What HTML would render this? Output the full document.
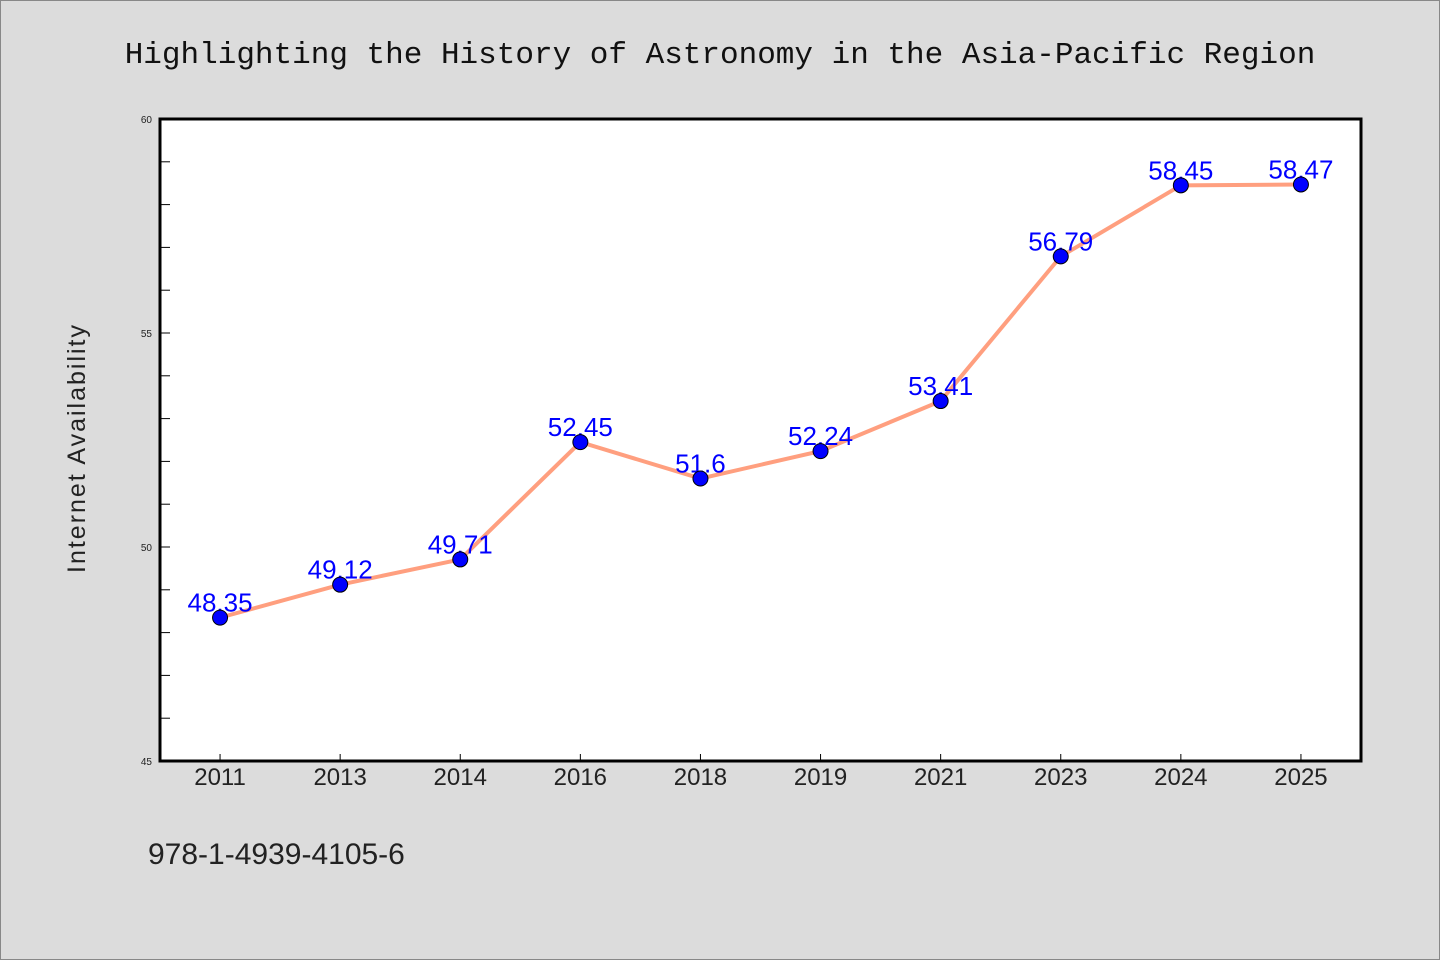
<!DOCTYPE html>
<html><head><meta charset="utf-8"><style>
html,body{margin:0;padding:0;background:#dcdcdc;}
svg{display:block;font-family:"Liberation Sans","WenQuanYi Zen Hei",sans-serif;}
</style></head><body>
<svg id="chart" width="1440" height="960">
<rect x="0.5" y="0.5" width="1439" height="959" fill="#dcdcdc" stroke="#888"/>
<text x="720" y="63" text-anchor="middle" font-family="Liberation Mono, monospace" font-size="31" fill="#111">Highlighting the History of Astronomy in the Asia-Pacific Region</text>
<rect x="160" y="119" width="1201" height="642" fill="#fff" stroke="#000" stroke-width="3"/>
<g id="yticks"></g><g id="xticks"></g><g id="series"></g>
<text transform="translate(85,448) rotate(-90)" text-anchor="middle" font-size="25" fill="#222" letter-spacing="2">Internet Availability</text>
<text x="148" y="864" font-size="30" fill="#222">978-1-4939-4105-6</text>
</svg>
<script>
const categories=["2011","2013","2014","2016","2018","2019","2021","2023","2024","2025"];
const values=[48.35,49.12,49.71,52.45,51.6,52.24,53.41,56.79,58.45,58.47];
const labels=["48.35","49.12","49.71","52.45","51.6","52.24","53.41","56.79","58.45","58.47"];
const yTickLabels=[45,50,55,60];
const yMin=45,yMax=60;
const NS="http://www.w3.org/2000/svg";
const x0=160,x1=1361,yTop=119,yBot=761;
function xs(i){return x0+(x1-x0)/categories.length*(i+0.5);}
function ys(v){return yBot-(v-yMin)/(yMax-yMin)*(yBot-yTop);}
function mk(t,a,p){const e=document.createElementNS(NS,t);for(const k in a)e.setAttribute(k,a[k]);p.appendChild(e);return e;}
const yt=document.getElementById('yticks');
for(let v=yMin;v<=yMax;v++){
 const l=mk('line',{x1:x0,x2:x0+10,y1:ys(v),y2:ys(v),stroke:'#000','stroke-width':1},yt);
 
 
}
yTickLabels.forEach(v=>{
 const t=mk('text',{x:x0-8,y:ys(v)+4,'text-anchor':'end','font-size':10,fill:'#222'},yt);
 t.textContent=v;
 
 
});
const xt=document.getElementById('xticks');
categories.forEach((c,i)=>{
 const l=mk('line',{x1:xs(i),x2:xs(i),y1:yBot,y2:yBot-7,stroke:'#000'},xt);
 
 
 const t=mk('text',{x:xs(i),y:785,'text-anchor':'middle','font-size':24,fill:'#222'},xt);
 t.textContent=c;
 
 
});
const s=document.getElementById('series');
const pl=mk('polyline',{points:values.map((v,i)=>xs(i)+','+ys(v)).join(' '),fill:'none',stroke:'#ff9f7f','stroke-width':4},s);


values.forEach((v,i)=>{
 const t=mk('text',{x:xs(i),y:ys(v)-6,'text-anchor':'middle','font-size':26,fill:'#0000ff'},s);
 t.textContent=labels[i];
 
 
});
values.forEach((v,i)=>{
 const c=mk('circle',{cx:xs(i),cy:ys(v),r:7.5,fill:'#0000ff',stroke:'#000','stroke-width':1},s);
 
 
});
</script>
</body></html>
